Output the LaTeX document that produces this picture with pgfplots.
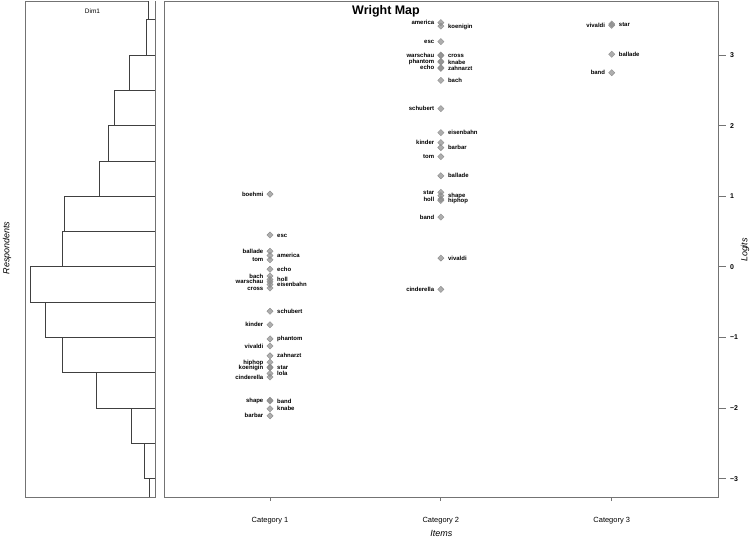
\documentclass[border=0pt]{standalone}
\usepackage{pgfplots}
\pgfplotsset{compat=1.18}
\usepackage{pgfplotstable}
\usepackage{fontspec}
\setmainfont{Liberation Sans}

\definecolor{itemgray}{gray}{0.55}
\definecolor{boxgray}{gray}{0.45}

% person distribution, bins of 0.5 logits (bar length, lower bin edge)
\pgfplotstableread{
n y
6 -3.5
11.4 -3
24.4 -2.5
59.7 -2
93.7 -1.5
110.4 -1
125.4 -0.5
93.4 0
91.7 0.5
56.4 1
47 1.5
41 2
26.4 2.5
9.4 3
7.4 3.5
7.4 4
}\persons

% item thresholds, labelled to the left
\pgfplotstableread{
x y label
1 1.03 boehmi
1 0.22 ballade
1 0.10 tom
1 -0.13 bach
1 -0.21 warschau
1 -0.30 cross
1 -0.82 kinder
1 -1.12 vivaldi
1 -1.35 hiphop
1 -1.43 koenigin
1 -1.56 cinderella
1 -1.89 shape
1 -2.11 barbar
2 3.46 america
2 3.19 esc
2 3.00 warschau
2 2.91 phantom
2 2.82 echo
2 2.24 schubert
2 1.76 kinder
2 1.56 tom
2 1.055 star
2 0.96 holl
2 0.705 band
2 -0.32 cinderella
3 3.42 vivaldi
3 2.75 band
}\itemsleft

% item thresholds, labelled to the right
\pgfplotstableread{
x y label
1 0.45 esc
1 0.16 america
1 -0.035 echo
1 -0.18 holl
1 -0.25 eisenbahn
1 -0.63 schubert
1 -1.02 phantom
1 -1.26 zahnarzt
1 -1.42 star
1 -1.51 lola
1 -1.90 band
1 -2.01 knabe
2 3.41 koenigin
2 2.99 cross
2 2.90 knabe
2 2.81 zahnarzt
2 2.64 bach
2 1.90 eisenbahn
2 1.69 barbar
2 1.29 ballade
2 1.01 shape
2 0.94 hiphop
2 0.125 vivaldi
3 3.44 star
3 3.01 ballade
}\itemsright

\pgfplotsset{
  itemmarks/.style={only marks, color=itemgray, mark=square*, mark size=2.2bp,
    mark options={rotate=45, fill=itemgray, draw=none, fill opacity=0.7},
    nodes near coords, point meta=explicit symbolic,
    every node near coord/.append style={font=\bfseries\fontsize{6}{6}\selectfont,
      inner sep=0pt, text=black, fill opacity=1}},
  leftlab/.style={itemmarks,
    every node near coord/.append style={anchor=base east, xshift=-6.5bp, yshift=-2.1bp}},
  rightlab/.style={itemmarks,
    every node near coord/.append style={anchor=base west, xshift=7bp, yshift=-2.1bp}},
}

\begin{document}
\begin{tikzpicture}
\useasboundingbox (0,0) rectangle (754bp,538bp);

\begin{axis}[
    at={(25bp,41bp)}, anchor=south west,
    scale only axis, width=130.7bp, height=495.3bp,
    xmin=0, xmax=130.7, x dir=reverse,
    ymin=-3.259, ymax=3.755,
    xtick=\empty, ytick=\empty,
    axis line style={boxgray, line width=0.9bp},
]
\addplot[xbar interval, draw=black!75, fill=white, line width=0.8bp]
  table[x=n, y=y] {\persons};
\end{axis}

\begin{axis}[
    at={(164.7bp,41bp)}, anchor=south west,
    scale only axis, width=553.3bp, height=495.3bp,
    xmin=0.3837, xmax=3.622,
    ymin=-3.259, ymax=3.755,
    clip=false,
    xtick={1,2,3}, xticklabels={Category 1,Category 2,Category 3},
    ytick={-3,-2,-1,0,1,2,3}, yticklabels={−3,−2,−1,0,1,2,3},
    xtick pos=bottom, ytick pos=right, yticklabel pos=right,
    tick align=outside, major tick length=7.5bp,
    xtick style={/pgfplots/major tick length=4bp},
    axis line style={boxgray, line width=0.9bp},
    tick style={boxgray, line width=0.9bp},
    xticklabel style={font=\fontsize{7.5}{8}\selectfont, yshift=-9bp},
    yticklabel style={font=\bfseries\fontsize{7}{8}\selectfont, xshift=1bp},
]
\addplot[leftlab] table[x=x, y=y, meta=label] {\itemsleft};
\addplot[rightlab] table[x=x, y=y, meta=label] {\itemsright};
\end{axis}

\node[font=\bfseries\fontsize{12.5}{14}\selectfont] at (386bp,527bp) {Wright Map};
\node[font=\fontsize{6.5}{7}\selectfont] at (92.5bp,527.3bp) {Dim1};
\node[font=\itshape\fontsize{9}{10}\selectfont, rotate=90] at (7bp,290bp) {Respondents};
\node[font=\itshape\fontsize{9}{10}\selectfont, rotate=90] at (745bp,288bp) {Logits};
\node[font=\itshape\fontsize{9}{10}\selectfont] at (441.4bp,5bp) {Items};
\end{tikzpicture}
\end{document}
